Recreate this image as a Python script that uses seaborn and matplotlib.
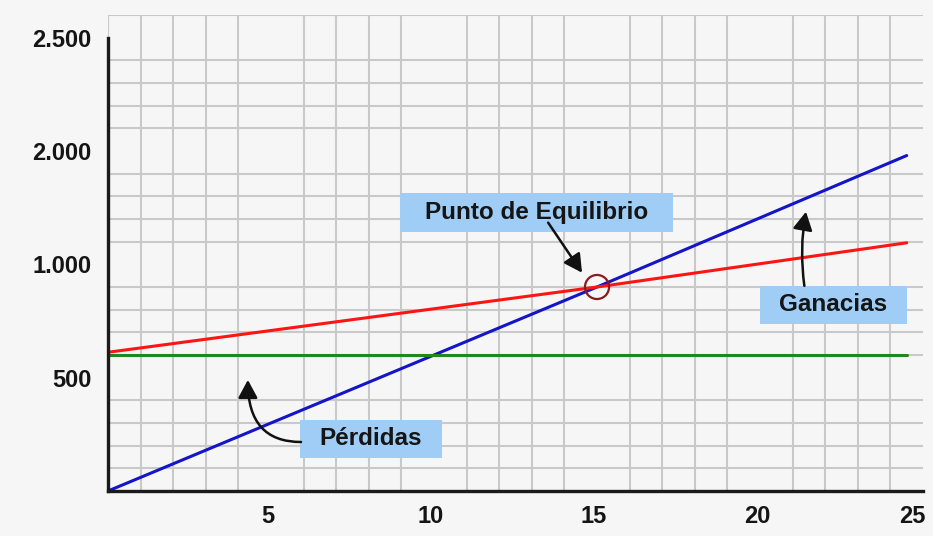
import matplotlib
matplotlib.use("Agg")
import matplotlib.pyplot as plt
import matplotlib.transforms as mtransforms
from matplotlib.patches import Rectangle
import seaborn as sns
import pandas as pd

# Units sold and the three cost/revenue lines
unidades = [0, 15, 24.5]
ingresos = [0, 900, 1480]
costos_totales = [612, 900, 1095]
costos_fijos = [602, 602, 602]

# Break-even point
equilibrio_x = 15
equilibrio_y = 900

x_ticks = [5, 10, 15, 20, 25]
y_ticks = [500, 1000, 1500, 2000]
y_tick_labels = ["500", "1.000", "2.000", "2.500"]

df = pd.DataFrame({
    "unidades": unidades * 3,
    "valor": ingresos + costos_totales + costos_fijos,
    "serie": ["Ingresos"] * 3 + ["Costos totales"] * 3 + ["Costos fijos"] * 3,
})

sns.set_theme(style="white")
plt.rcParams["font.family"] = ["Liberation Sans", "DejaVu Sans"]

bg = "#f6f6f6"
fig = plt.figure(figsize=(9.33, 5.36), dpi=100, facecolor=bg)
ax = fig.add_axes([0.1158, 0.084, 0.8735, 0.888])
ax.set_facecolor(bg)

palette = {"Ingresos": "#1414c8", "Costos totales": "#ff1414", "Costos fijos": "#1e8a1e"}
sns.lineplot(data=df, x="unidades", y="valor", hue="serie", palette=palette,
             linewidth=2.2, legend=False, ax=ax, zorder=3)

ax.set_xlim(0, 25)
ax.set_ylim(0, 2100)

# Fine grid: one line per unit and per 100
ax.set_xticks(range(0, 26), minor=True)
ax.set_yticks(range(0, 2101, 100), minor=True)
ax.grid(which="minor", color="#c9c9c9", linewidth=1.5, zorder=0)
ax.set_axisbelow(True)

ax.set_xticks(x_ticks)
ax.set_xticklabels([str(t) for t in x_ticks])
ax.set_yticks(y_ticks)
ax.set_yticklabels(y_tick_labels)
ax.tick_params(axis="both", which="both", length=0)
ax.tick_params(axis="y", pad=12, labelsize=17)
ax.tick_params(axis="x", pad=10, labelsize=17)
for lbl in ax.get_xticklabels() + ax.get_yticklabels():
    lbl.set_fontweight("bold")
    lbl.set_color("#151515")

# Nudge the x labels slightly left; the last one sits flush with the grid edge
xlabels = ax.get_xticklabels()
for lbl in xlabels[:-1]:
    lbl.set_transform(lbl.get_transform() +
                      mtransforms.ScaledTranslation(-3 / 100, 0, fig.dpi_scale_trans))
xlabels[-1].set_horizontalalignment("right")
xlabels[-1].set_transform(xlabels[-1].get_transform() +
                          mtransforms.ScaledTranslation(2 / 100, 0, fig.dpi_scale_trans))
ax.set_xlabel("")
ax.set_ylabel("")

for side in ("top", "right"):
    ax.spines[side].set_visible(False)
for side in ("left", "bottom"):
    ax.spines[side].set_color("#1a1a1a")
    ax.spines[side].set_linewidth(2.4)
    ax.spines[side].set_zorder(4)
ax.spines["left"].set_bounds(0, 2000)

# Break-even circle
ax.scatter([equilibrio_x], [equilibrio_y], s=300, facecolors="none",
           edgecolors="#8b1a1a", linewidths=1.6, zorder=5)

# Label boxes (x0, x1, y0, y1 in data units) with their captions
box_color = "#9fcdf5"
etiquetas = [
    ("Punto de Equilibrio", 8.96, 17.33, 1144, 1316),
    ("Pérdidas", 5.89, 10.25, 146, 314),
    ("Ganacias", 20.0, 24.51, 738, 905),
]
for texto, x0, x1, y0, y1 in etiquetas:
    ax.add_patch(Rectangle((x0, y0), x1 - x0, y1 - y0, facecolor=box_color,
                           edgecolor="none", zorder=6))
    ax.text((x0 + x1) / 2, (y0 + y1) / 2, texto, fontsize=17.5, fontweight="bold",
            color="#151515", ha="center", va="center", zorder=7)

arrow_kw = dict(arrowstyle="-|>,head_length=0.5,head_width=0.27", color="#111111",
                lw=1.8, mutation_scale=22, shrinkA=0, shrinkB=0)
ax.annotate("", xy=(14.54, 963), xytext=(13.50, 1184),
            arrowprops=dict(**arrow_kw, connectionstyle="arc3,rad=0"), zorder=6)
ax.annotate("", xy=(4.29, 490), xytext=(5.92, 216),
            arrowprops=dict(**arrow_kw, connectionstyle="angle3,angleA=0,angleB=90"), zorder=6)
ax.annotate("", xy=(21.41, 1232), xytext=(21.36, 905),
            arrowprops=dict(**arrow_kw, connectionstyle="arc3,rad=-0.08"), zorder=6)

fig.savefig("out.png", dpi=100, facecolor=bg)
